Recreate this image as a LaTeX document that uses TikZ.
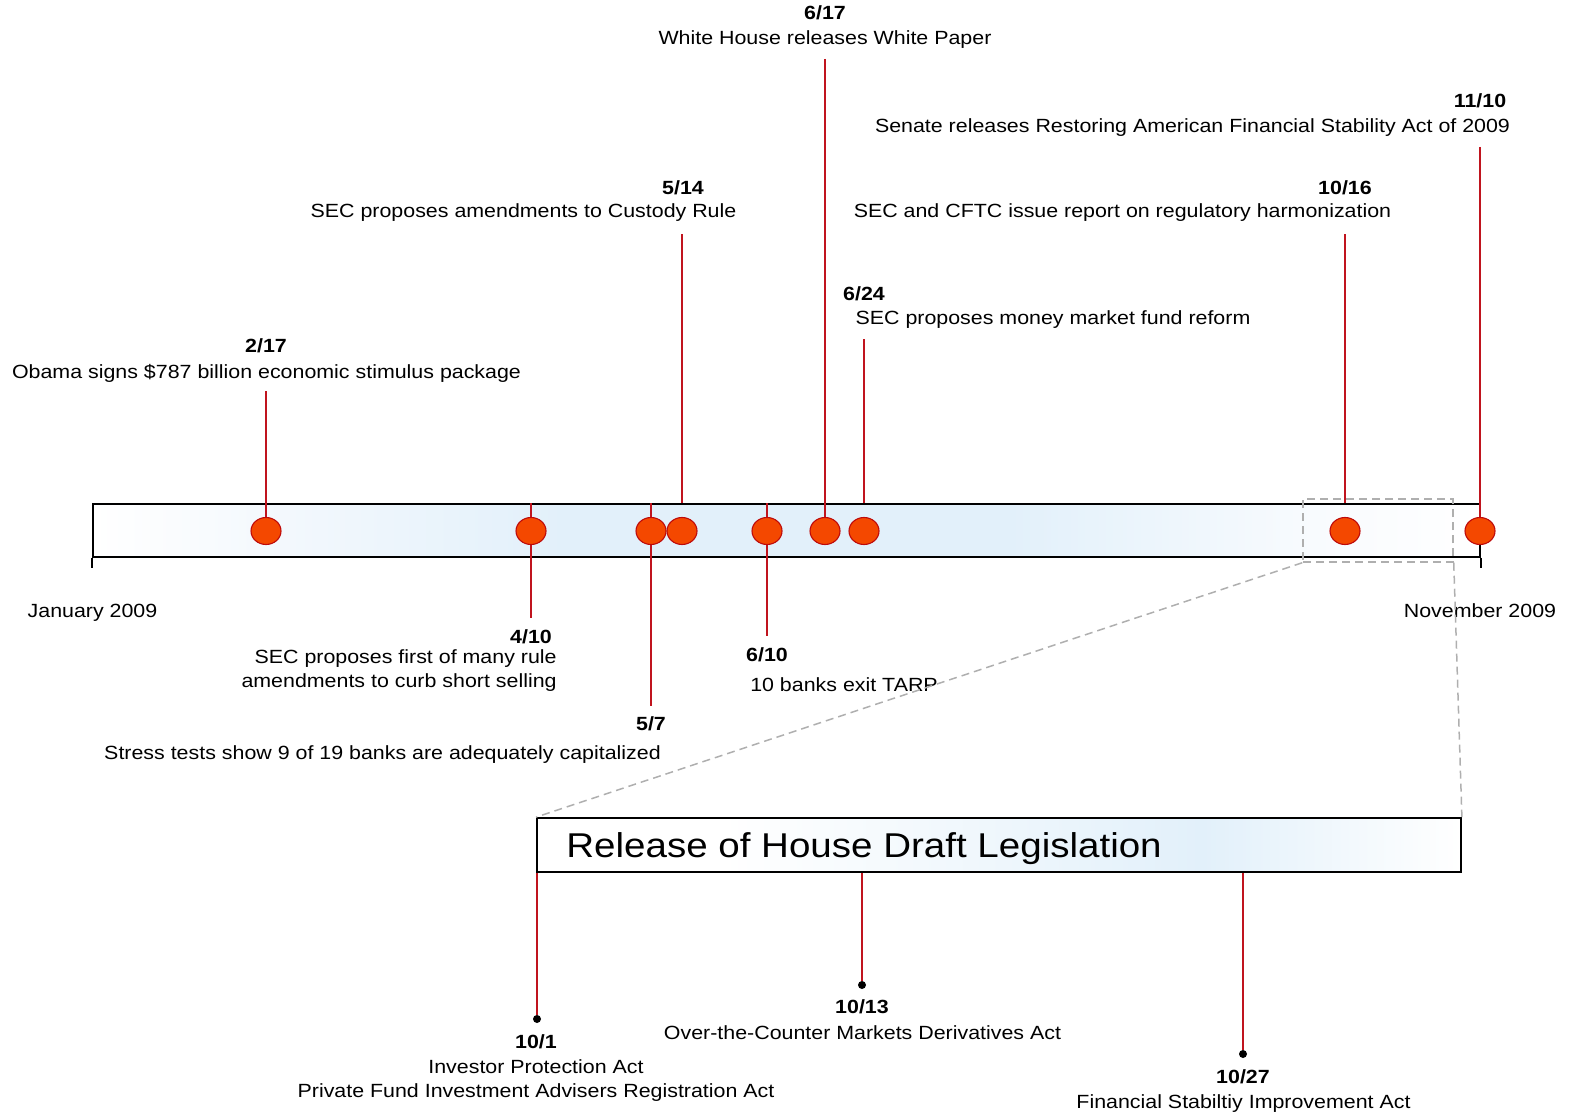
\documentclass[tikz,border=0pt]{standalone}
\usepackage{fontspec}
\setmainfont{Liberation Sans}[FakeStretch=1.12]
\usetikzlibrary{shapes.geometric}
\definecolor{dotfill}{RGB}{244,72,0}
\definecolor{dotline}{RGB}{190,10,10}
\definecolor{redline}{RGB}{192,20,30}
\definecolor{barblue}{RGB}{226,240,250}
\definecolor{barlight}{RGB}{243,248,253}
\definecolor{barfade}{RGB}{248,251,254}
\definecolor{zoomgray}{RGB}{175,175,175}
\pgfdeclarehorizontalshading{barsh}{100bp}{color(0bp)=(white); color(25bp)=(white); color(32bp)=(barlight); color(42bp)=(barblue); color(58bp)=(barblue); color(69bp)=(barfade); color(75bp)=(white); color(100bp)=(white)}
\pgfdeclarehorizontalshading{boxsh}{100bp}{color(0bp)=(white); color(25bp)=(white); color(35bp)=(white); color(61bp)=(barblue); color(75bp)=(white); color(100bp)=(white)}
\pgfdeclarelayer{back}
\pgfdeclarelayer{mid}
\pgfsetlayers{back,mid,main}
\begin{document}
\begin{tikzpicture}[x=0.5pt,y=-0.5pt,
 lbl/.style={inner sep=0,font=\fontsize{9.55}{11}\selectfont},
 dt/.style={inner sep=0,font=\fontsize{9.55}{11}\selectfont\bfseries},
 ev/.style={ellipse,draw=dotline,line width=0.55pt,fill=dotfill,minimum width=15pt,minimum height=13.5pt,inner sep=0},
 conn/.style={draw=redline,line width=0.9pt},
 pin/.style={circle,fill=black,minimum size=4pt,inner sep=0},
 zoomline/.style={draw=zoomgray,line width=0.75pt,dash pattern=on 4pt off 2.5pt}]
\useasboundingbox (0,0) rectangle (1570,1113);

\begin{pgfonlayer}{back}
\node[draw=black,line width=0.9pt,shade,shading=barsh,minimum width=693.5pt,minimum height=26.5pt,inner sep=0] (bar) at (786.5,530.5) {};
\node[draw=black,line width=0.9pt,shade,shading=boxsh,minimum width=462pt,minimum height=27pt,inner sep=0] (house) at (999,845) {};
\end{pgfonlayer}
\draw[line width=0.9pt] (bar.south west) -- ++(0,10);
\draw[line width=0.9pt] (bar.south east) -- ++(0,10);

% event dots
\node[ev] (d1) at (266,531) {};
\node[ev] (d2) at (531,531) {};
\node[ev] (d3) at (651,531) {};
\node[ev] (d4) at (682,531) {};
\node[ev] (d5) at (767,531) {};
\node[ev] (d6) at (825,531) {};
\node[ev] (d7) at (864,531) {};
\node[ev] (d8) at (1345,531) {};
\node[ev] (d9) at (1480,531) {};

% connector ends
\coordinate (t1) at (266,391);
\coordinate (t4) at (682,234);
\coordinate (t6) at (825,59);
\coordinate (t7) at (864,339);
\coordinate (t8) at (1345,234);
\coordinate (t9) at (1480,147);
\coordinate (b2) at (531,618);
\coordinate (b3) at (651,706);
\coordinate (b5) at (767,636);

\begin{pgfonlayer}{mid}
\draw[conn] (t1) -- (d1.center);
\draw[conn] (t4) -- (d4 |- bar.north);
\draw[conn] (t6) -- (d6.center);
\draw[conn] (t7) -- (d7 |- bar.north);
\draw[conn] (t8) -- (d8 |- bar.north);
\draw[conn] (t9) -- (d9.center);
\draw[conn] (d2 |- bar.north) -- (b2);
\draw[conn] (d3 |- bar.north) -- (b3);
\draw[conn] (d5 |- bar.north) -- (b5);
\end{pgfonlayer}

% labels above
\node[dt,anchor=base] (l6a) at (825,20) {6/17};
\node[lbl,anchor=base] (l6b) at (825,45) {White House releases White Paper};
\node[dt,anchor=base] (l9a) at (1480,108) {11/10};
\node[lbl,anchor=base] (l9b) at (1192.5,133) {Senate releases Restoring American Financial Stability Act of 2009};
\node[dt,anchor=base] (l4a) at (683,195) {5/14};
\node[lbl,anchor=base] (l4b) at (523.5,218) {SEC proposes amendments to Custody Rule};
\node[dt,anchor=base] (l8a) at (1345,195) {10/16};
\node[lbl,anchor=base] (l8b) at (1122.5,218) {SEC and CFTC issue report on regulatory harmonization};
\node[dt,anchor=base] (l7a) at (864,300) {6/24};
\node[lbl,anchor=base] (l7b) at (1053,324) {SEC proposes money market fund reform};
\node[dt,anchor=base] (l1a) at (266,352) {2/17};
\node[lbl,anchor=base] (l1b) at (266.5,378) {Obama signs \$787 billion economic stimulus package};

% labels below
\node[lbl,anchor=base] (jan) at (92.5,617) {January 2009};
\node[lbl,anchor=base] (nov) at (1480,617) {November 2009};
\node[dt,anchor=base] (l2a) at (531,643) {4/10};
\node[lbl,anchor=base east] (l2b) at (557,663) {SEC proposes first of many rule};
\node[lbl,anchor=base east] (l2c) at (557,687) {amendments to curb short selling};
\node[dt,anchor=base] (l5a) at (767,661) {6/10};
\node[lbl,anchor=base] (l5b) at (844,691) {10 banks exit TARP};
\node[dt,anchor=base] (l3a) at (651,730) {5/7};
\node[lbl,anchor=base] (l3b) at (382.5,759) {Stress tests show 9 of 19 banks are adequately capitalized};

% zoom box
\node[zoomline,minimum width=75pt,minimum height=31.5pt,inner sep=0] (zbox) at (1378,530.5) {};
\draw[zoomline] (zbox.south west) -- (house.north west);
\draw[zoomline] (zbox.south east) -- (house.north east);

% house box
\node[anchor=base west,inner sep=0,font=\fontsize{17.2}{20}\selectfont] (title) at (566,857) {Release of House Draft Legislation};
\node[pin] (e1) at (537,1019) {};
\node[pin] (e2) at (862,985) {};
\node[pin] (e3) at (1243,1054) {};
\draw[conn] (e1 |- house.south) -- (e1);
\draw[conn] (e2 |- house.south) -- (e2);
\draw[conn] (e3 |- house.south) -- (e3);

\node[dt,anchor=base] (m2a) at (862,1013) {10/13};
\node[lbl,anchor=base] (m2b) at (862.5,1039) {Over-the-Counter Markets Derivatives Act};
\node[dt,anchor=base] (m1a) at (536,1048) {10/1};
\node[lbl,anchor=base] (m1b) at (536,1073) {Investor Protection Act};
\node[lbl,anchor=base] (m1c) at (536,1097) {Private Fund Investment Advisers Registration Act};
\node[dt,anchor=base] (m3a) at (1243,1083) {10/27};
\node[lbl,anchor=base] (m3b) at (1243.5,1108) {Financial Stabiltiy Improvement Act};
\end{tikzpicture}
\end{document}
